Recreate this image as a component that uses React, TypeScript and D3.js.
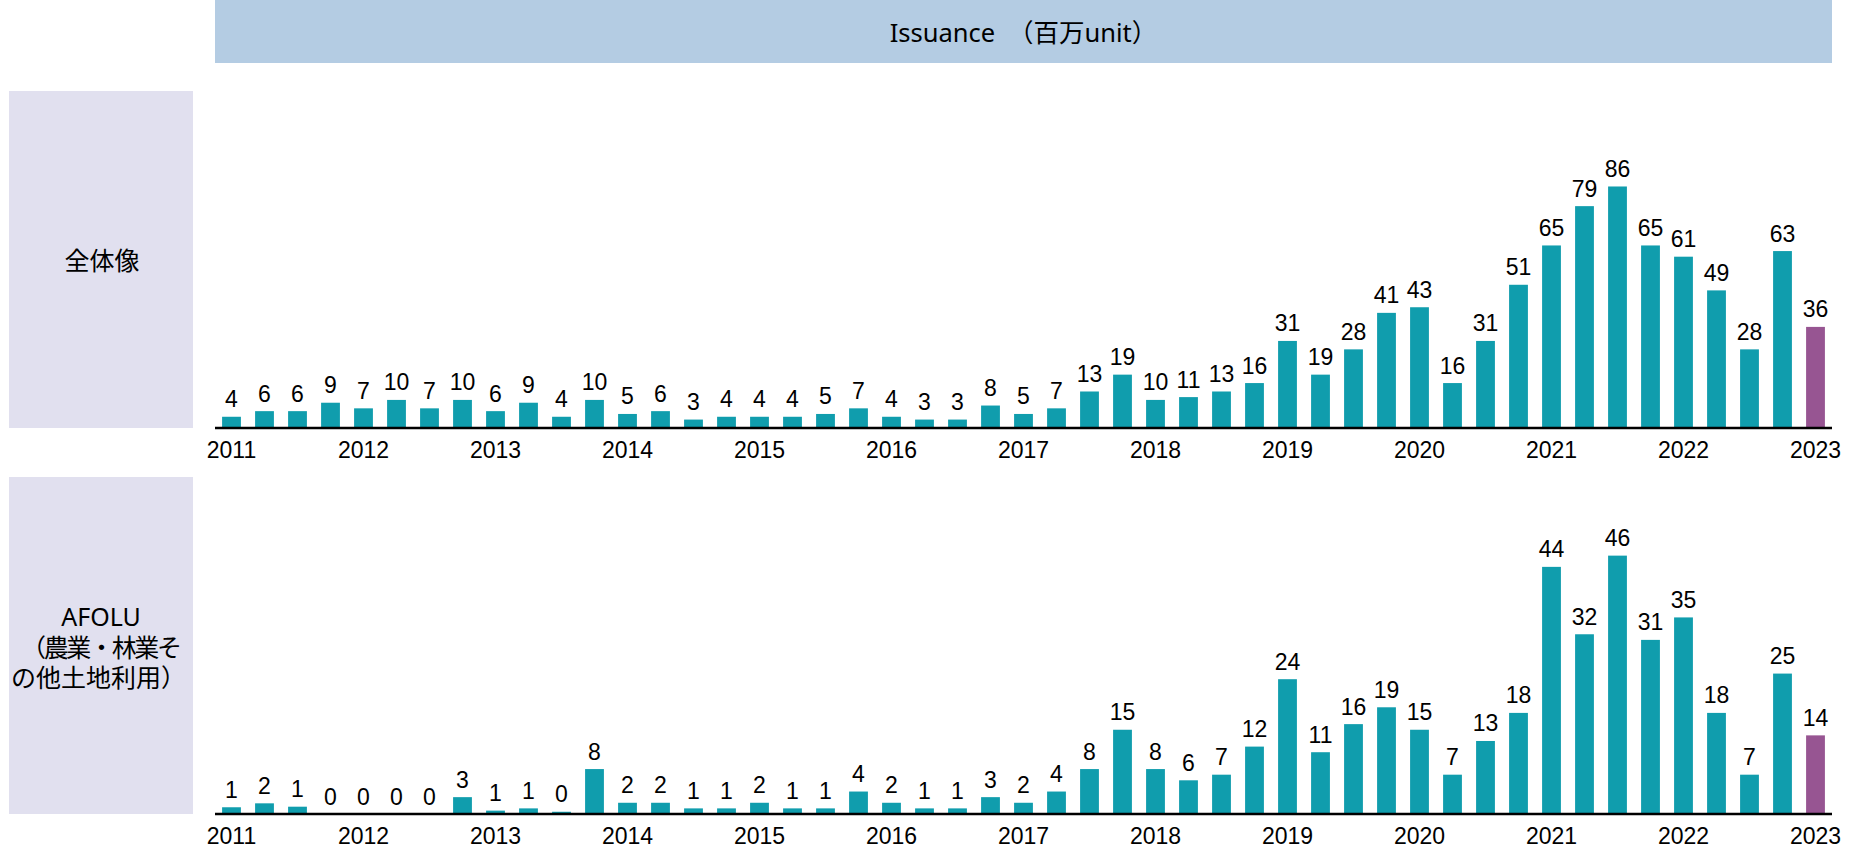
import React from "react";
import * as d3 from "d3";

const years = ["2011","2012","2013","2014","2015","2016","2017","2018","2019","2020","2021","2022","2023"];
const quarterNames = ["Q1","Q2","Q3","Q4"];
const categories: string[] = years.flatMap((y) => (y === "2023" ? [y + "Q1"] : quarterNames.map((q) => y + q)));

const totalValues = [
  4, 6, 6, 9,
  7, 10, 7, 10,
  6, 9, 4, 10,
  5, 6, 3, 4,
  4, 4, 5, 7,
  4, 3, 3, 8,
  5, 7, 13, 19,
  10, 11, 13, 16,
  31, 19, 28, 41,
  43, 16, 31, 51,
  65, 79, 86, 65,
  61, 49, 28, 63,
  36,
];

const afoluValues = [
  1.2, 1.9, 1.3, 0,
  0, 0, 0, 3,
  0.6, 1, 0.4, 8,
  2, 2, 1, 1,
  2, 1, 1, 4,
  2, 1, 1, 3,
  2, 4, 8, 15,
  8, 6, 7, 12,
  24, 11, 16, 19,
  15, 7, 13, 18,
  44, 32, 46, 31,
  35, 18, 7, 25,
  14,
];

const titleText = "Issuance\u3000（百万unit）";
const panelLabelTop = ["全体像"];
const panelLabelBottom = ["AFOLU", "（農業・林業そ", "の他土地利用）"];

const TEAL = "#109dad";
const PURPLE = "#975592";
const NUM_FONT = "'Liberation Sans', Arial, sans-serif";
const JP_FONT = "'Noto Sans', 'Noto Sans CJK JP', sans-serif";

const x = d3.scaleBand<string>().domain(categories).range([215, 1832]).paddingInner(0.43).paddingOuter(0.215);
const fmt = d3.format(".0f");

function Panel({ values, top, bottom, yMax }: { values: number[]; top: number; bottom: number; yMax: number }) {
  const y = d3.scaleLinear().domain([0, yMax]).range([bottom, top]);
  const bw = x.bandwidth();
  return (
    <g>
      {values.map((v, i) => {
        const c = categories[i];
        const x0 = x(c)!;
        const isLast = i === values.length - 1;
        return (
          <g key={c}>
            {v > 0 && (
              <rect x={x0} y={y(v)} width={bw} height={bottom - y(v)} fill={isLast ? PURPLE : TEAL} />
            )}
            <text
              x={x0 + bw / 2}
              y={y(v) - 9.5}
              textAnchor="middle"
              fontFamily={NUM_FONT}
              fontSize={23}
              fill="#000"
            >
              {fmt(v)}
            </text>
          </g>
        );
      })}
      <line x1={215} x2={1832} y1={bottom} y2={bottom} stroke="#000" strokeWidth={2.5} />
      {years.map((yr) => {
        const c = yr + "Q1";
        return (
          <text
            key={yr}
            x={x(c)! + bw / 2}
            y={bottom + 30}
            textAnchor="middle"
            fontFamily={NUM_FONT}
            fontSize={23}
            fill="#000"
          >
            {yr}
          </text>
        );
      })}
    </g>
  );
}

export default function App() {
  return (
    <svg
      width={1856}
      height={864}
      style={{ position: "absolute", left: 0, top: 0, display: "block", background: "#fff" }}
    >
      <rect x={0} y={0} width={1856} height={864} fill="#fff" />
      {/* header */}
      <rect x={215} y={0} width={1617} height={63} fill="#b4cce3" />
      <text x={1023.5} y={42} textAnchor="middle" fontFamily={JP_FONT} fontSize={25.5} fill="#000">
        {titleText}
      </text>

      {/* left panels */}
      <rect x={9} y={91} width={184} height={337} fill="#e1e0ef" />
      <rect x={9} y={477} width={184} height={337} fill="#e1e0ef" />
      <text x={102} y={259.5} textAnchor="middle" dominantBaseline="central" fontFamily={JP_FONT} fontSize={25} fill="#000">
        {panelLabelTop[0]}
      </text>
      <text x={101} y={616} textAnchor="middle" dominantBaseline="central" fontFamily={JP_FONT} fontSize={25} fill="#000">
        {panelLabelBottom[0]}
      </text>
      <text
        x={21}
        y={646.5}
        dominantBaseline="central"
        fontFamily={JP_FONT}
        fontSize={25}
        textLength={161}
        lengthAdjust="spacing"
        fill="#000"
      >
        {panelLabelBottom[1]}
      </text>
      <text x={11} y={676.5} dominantBaseline="central" fontFamily={JP_FONT} fontSize={25} fill="#000">
        {panelLabelBottom[2]}
      </text>

      <Panel values={totalValues} top={91} bottom={428} yMax={120} />
      <Panel values={afoluValues} top={477} bottom={814} yMax={60} />
    </svg>
  );
}
